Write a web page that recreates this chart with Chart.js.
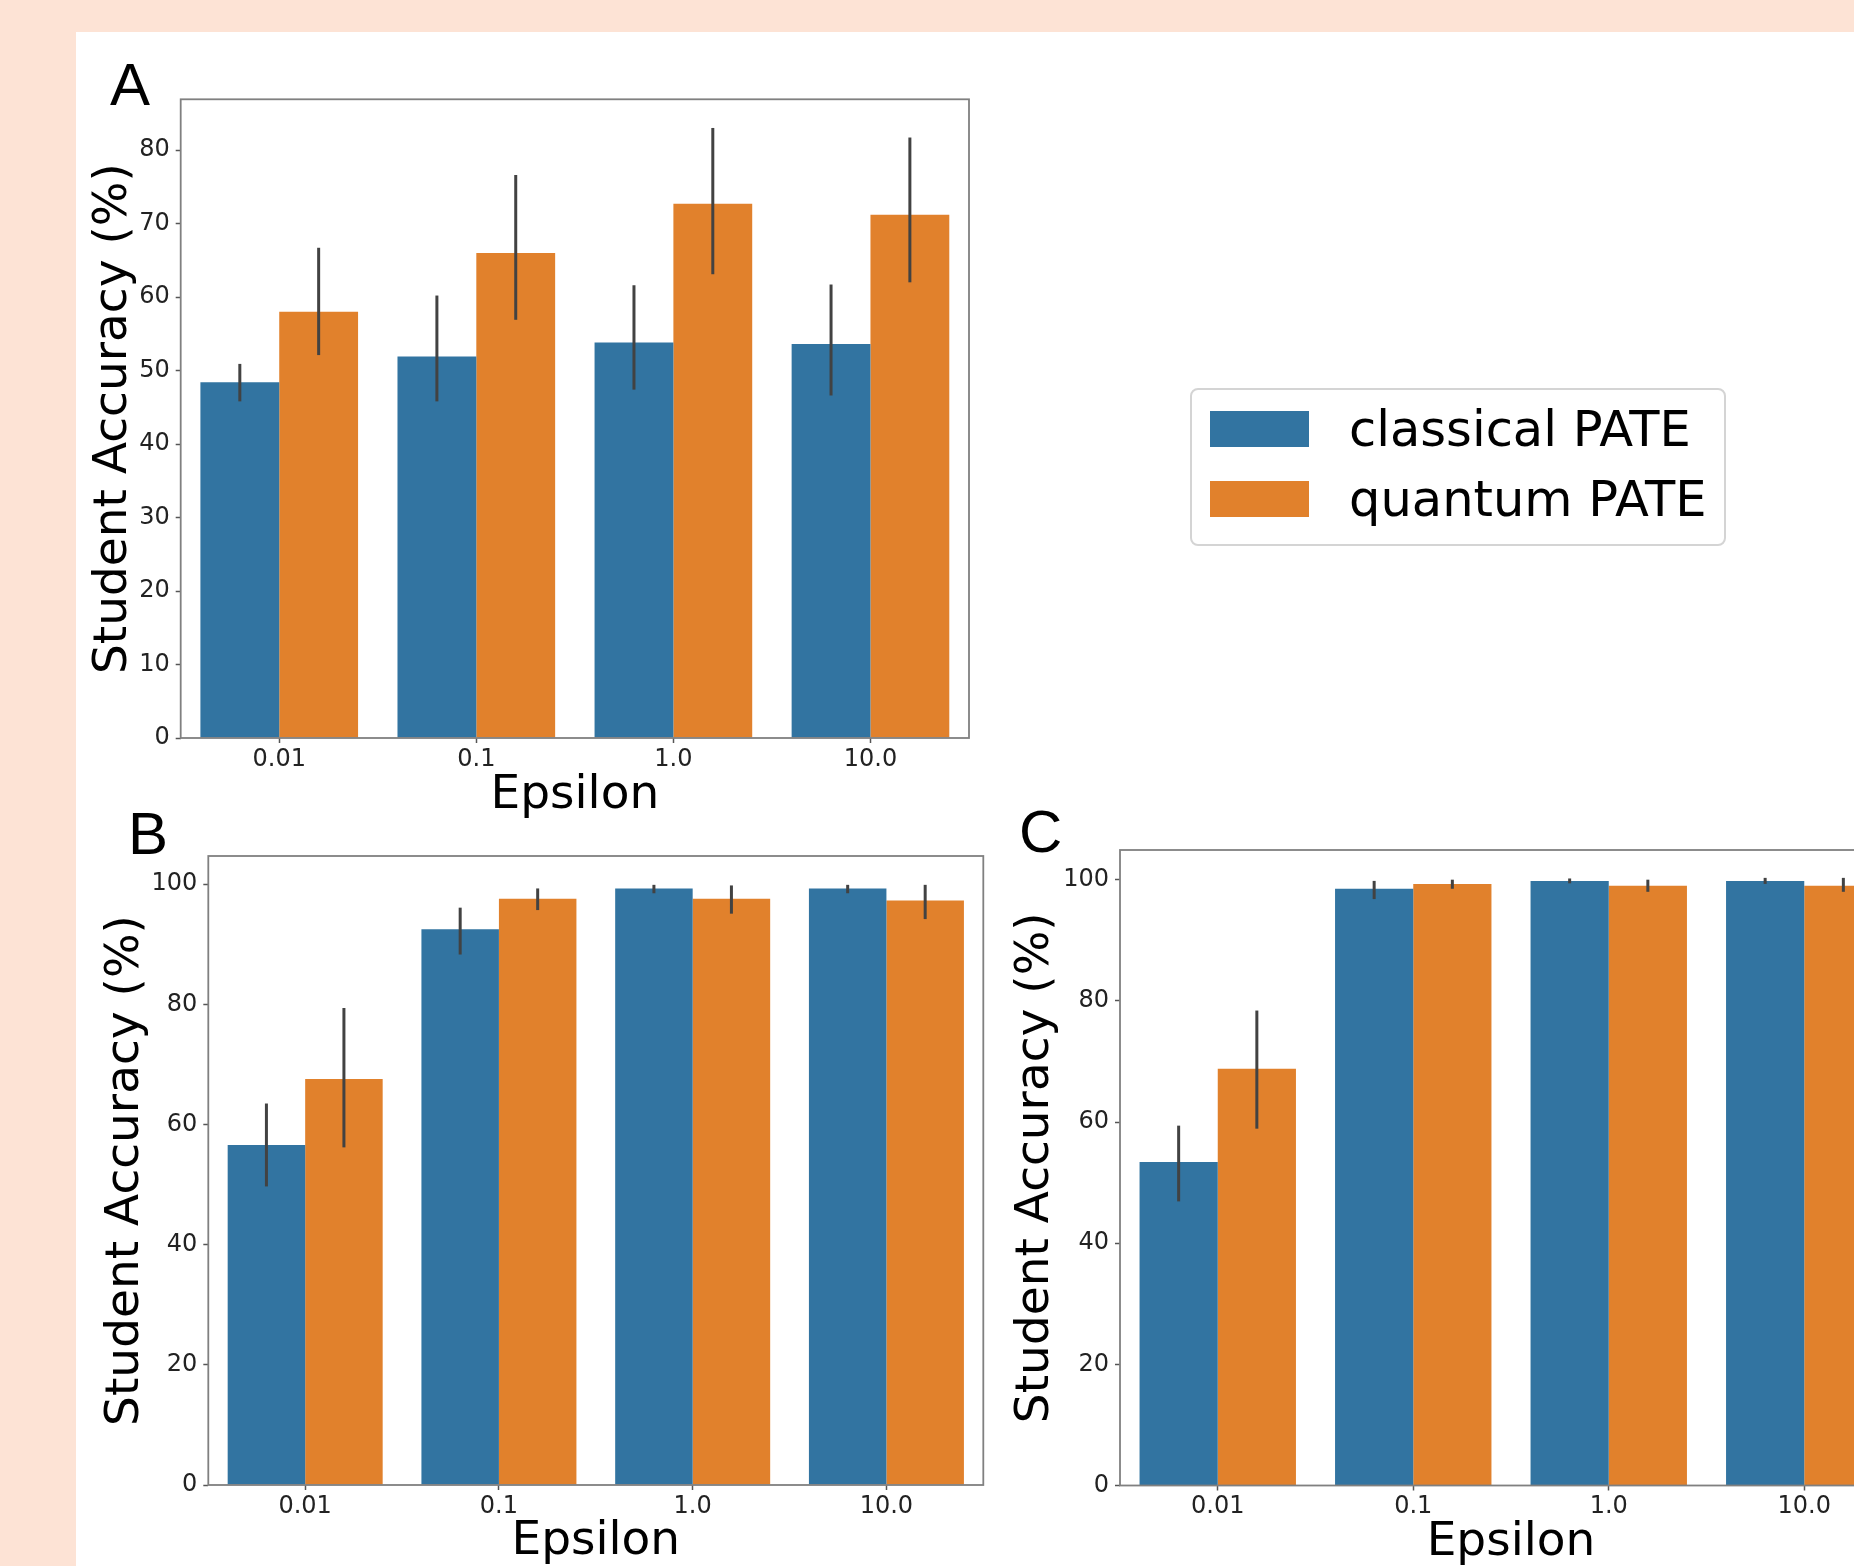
<!DOCTYPE html>
<html>
<head>
<meta charset="utf-8">
<script src="https://cdn.jsdelivr.net/npm/chart.js@4.4.1/dist/chart.umd.min.js"></script>
<style>
  html, body { margin: 0; padding: 0; }
  body {
    width: 1854px; height: 1566px; overflow: hidden; position: relative;
    background: #fde3d5; font-family: "DejaVu Sans", sans-serif;
  }
  #panel { position: absolute; left: 76px; top: 32px; right: 0; bottom: 0; background: #fff; }
  canvas { position: absolute; }
  .letter {
    position: absolute; font-family: "Liberation Sans", Arial, sans-serif;
    font-size: 60px; line-height: 60px; color: #000;
  }
  #legend {
    position: absolute; left: 1190px; top: 388px; width: 532px; height: 154px;
    border: 2px solid #d4d4d4; border-radius: 8px; background: #fff;
  }
  .row { position: absolute; left: 0; height: 72px; line-height: 72px; font-size: 49.5px; color: #000; white-space: nowrap; }
  .swatch { position: absolute; left: 18px; top: 18px; width: 99px; height: 36px; }
  .label { position: absolute; left: 157px; top: 0; }
</style>
</head>
<body>
<div id="panel"></div>
<div class="letter" style="left:110px; top:55px;">A</div>
<div class="letter" style="left:128px; top:804px;">B</div>
<div class="letter" style="left:1019px; top:802px;">C</div>
<canvas id="chartA"></canvas>
<canvas id="chartB"></canvas>
<canvas id="chartC"></canvas>
<div id="legend"></div>

<script>
// categories and series
const epsilons = ['0.01', '0.1', '1.0', '10.0'];
const seriesNames = ['classical PATE', 'quantum PATE'];
const seriesColors = ['#3274a1', '#e1812c'];

// panel A
const classicalA = [48.4, 51.9, 53.8, 53.6];
const quantumA = [58.0, 66.0, 72.7, 71.2];
const classicalErrA = [[45.8, 50.9], [45.8, 60.2], [47.4, 61.6], [46.6, 61.7]];
const quantumErrA = [[52.1, 66.7], [56.9, 76.6], [63.1, 83.0], [62.0, 81.7]];

// panel B
const classicalB = [56.6, 92.5, 99.3, 99.3];
const quantumB = [67.6, 97.6, 97.6, 97.3];
const classicalErrB = [[49.7, 63.5], [88.3, 96.1], [98.5, 99.9], [98.5, 99.9]];
const quantumErrB = [[56.2, 79.4], [95.7, 99.3], [95.1, 99.8], [94.2, 99.9]];

// panel C
const classicalC = [53.4, 98.5, 99.8, 99.8];
const quantumC = [68.8, 99.3, 99.0, 99.0];
const classicalErrC = [[46.9, 59.4], [96.8, 99.8], [99.4, 100.2], [99.3, 100.3]];
const quantumErrC = [[58.9, 78.4], [98.5, 100.0], [98.0, 100.0], [98.0, 100.3]];

const FONT = 'DejaVu Sans';
const TITLE_SIZE = 47;
const TICK_SIZE = 24;
const PAD_TOP = 25; // larger than the half label height chart.js reserves

// draws the confidence interval lines on top of the bars
const errorBars = {
  id: 'errorBars',
  afterDatasetsDraw(chart) {
    const ctx = chart.ctx;
    const y = chart.scales.y;
    ctx.save();
    ctx.strokeStyle = '#424242';
    ctx.lineWidth = 3;
    chart.data.datasets.forEach((ds, i) => {
      chart.getDatasetMeta(i).data.forEach((bar, j) => {
        const [lo, hi] = ds.errors[j];
        ctx.beginPath();
        ctx.moveTo(bar.x, y.getPixelForValue(lo));
        ctx.lineTo(bar.x, y.getPixelForValue(hi));
        ctx.stroke();
      });
    });
    ctx.restore();
  }
};

// box around the plot area
const frame = {
  id: 'frame',
  afterDraw(chart) {
    const a = chart.chartArea;
    const ctx = chart.ctx;
    ctx.save();
    ctx.strokeStyle = '#808080';
    ctx.lineWidth = 1.8;
    ctx.strokeRect(a.left, a.top, a.right - a.left, a.bottom - a.top);
    ctx.restore();
  }
};

function makePanel(id, geo, yMax, yStep, classical, quantum, errC, errQ) {
  const lh = TITLE_SIZE * 1.2;
  const cLeft = Math.round(geo.titleX - lh / 2);
  const cTop = Math.round(geo.top - PAD_TOP);
  const cRight = Math.round(geo.right + 10);
  const cBottom = Math.round(geo.titleY + lh / 2);
  const yAxisW = geo.left - cLeft;
  const xAxisH = cBottom - geo.bottom;

  const canvas = document.getElementById(id);
  canvas.width = cRight - cLeft;
  canvas.height = cBottom - cTop;
  canvas.style.left = cLeft + 'px';
  canvas.style.top = cTop + 'px';

  const tickGrid = { drawOnChartArea: false, drawTicks: true, tickLength: 5, tickWidth: 1.5, tickColor: '#555' };

  return new Chart(canvas.getContext('2d'), {
    type: 'bar',
    data: {
      labels: epsilons,
      datasets: [
        { label: seriesNames[0], data: classical, errors: errC, backgroundColor: seriesColors[0] },
        { label: seriesNames[1], data: quantum, errors: errQ, backgroundColor: seriesColors[1] }
      ]
    },
    options: {
      responsive: false,
      animation: false,
      devicePixelRatio: 1,
      layout: { padding: { top: geo.top - cTop, right: cRight - geo.right, left: 0, bottom: 0 } },
      datasets: { bar: { categoryPercentage: 0.8, barPercentage: 1.0, borderWidth: 0 } },
      plugins: { legend: { display: false }, tooltip: { enabled: false } },
      scales: {
        x: {
          type: 'category',
          grid: Object.assign({ offset: false }, tickGrid),
          border: { display: false },
          ticks: { font: { family: FONT, size: TICK_SIZE }, color: '#222', padding: 2 },
          title: { display: true, text: 'Epsilon', color: '#000',
                   font: { family: FONT, size: TITLE_SIZE }, padding: { top: 0, bottom: 0 } },
          afterFit: s => { s.height = xAxisH; }
        },
        y: {
          type: 'linear',
          min: 0,
          max: yMax,
          bounds: 'data',
          grid: tickGrid,
          border: { display: false },
          ticks: { stepSize: yStep, includeBounds: false, font: { family: FONT, size: TICK_SIZE }, color: '#222', padding: 6 },
          afterBuildTicks: s => { s.ticks = s.ticks.filter(t => t.value % yStep === 0); },
          title: { display: true, text: 'Student Accuracy (%)', color: '#000',
                   font: { family: FONT, size: TITLE_SIZE }, padding: { top: 0, bottom: 0 } },
          afterFit: s => { s.width = yAxisW; }
        }
      }
    },
    plugins: [errorBars, frame]
  });
}

makePanel('chartA', { left: 180.7, top: 99.3, right: 969, bottom: 738, titleX: 114.5, titleY: 795.5 },
  86.9, 10, classicalA, quantumA, classicalErrA, quantumErrA);
makePanel('chartB', { left: 208.3, top: 856, right: 983.3, bottom: 1485, titleX: 126, titleY: 1542 },
  104.7, 20, classicalB, quantumB, classicalErrB, quantumErrB);
makePanel('chartC', { left: 1120, top: 850, right: 1902, bottom: 1485.5, titleX: 1036.5, titleY: 1542.5 },
  104.9, 20, classicalC, quantumC, classicalErrC, quantumErrC);

// legend built from the series
const legend = document.getElementById('legend');
seriesNames.forEach((name, i) => {
  const row = document.createElement('div');
  row.className = 'row';
  row.style.top = (3 + i * 70) + 'px';
  const sw = document.createElement('div');
  sw.className = 'swatch';
  sw.style.background = seriesColors[i];
  const lb = document.createElement('div');
  lb.className = 'label';
  lb.textContent = name;
  row.appendChild(sw);
  row.appendChild(lb);
  legend.appendChild(row);
});
</script>
</body>
</html>
